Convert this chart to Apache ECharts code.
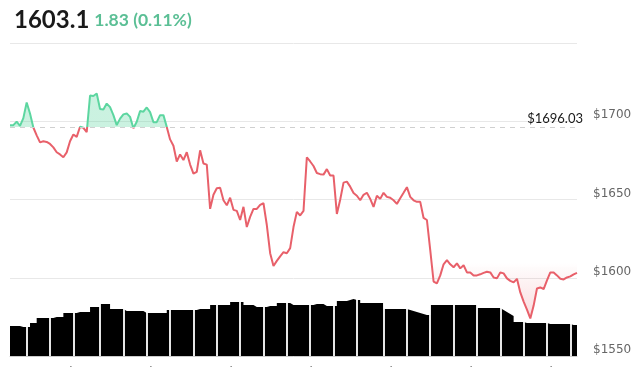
<!DOCTYPE html>
<html><head><meta charset="utf-8">
<script src="https://cdn.jsdelivr.net/npm/echarts@6/dist/echarts.min.js"></script>
<style>html,body{margin:0;padding:0;background:#fff}#c{width:640px;height:367px}</style>
</head><body><div id="c"></div>
<script>
// ---- data ----
const lastPrice = '1603.1';
const changeText = '1.83 (0.11%)';
const previousClose = 1696.03;
const startDay = 19, startHour = 10; // 19 Feb, 10:00, hourly points
const dayLabels = ['20. Feb','21. Feb','22. Feb','23. Feb','24. Feb','25. Feb','26. Feb'];
const yMin = 1550, yMax = 1750, yStep = 50;

const price = [
1697.5,1697.5,1699.7,1697.1,1702.0,1712.0,1705.0,1696.0,1691.0,1686.5,
1687.2,1686.8,1685.5,1683.3,1680.2,1678.8,1677.0,1680.1,1687.2,1691.5,
1690.0,1696.5,1695.8,1693.0,1716.4,1716.1,1717.7,1707.8,1707.5,1711.3,
1709.0,1703.9,1697.5,1701.7,1704.4,1705.0,1702.8,1695.5,1699.7,1706.5,
1706.1,1708.8,1705.8,1699.4,1699.4,1703.9,1703.9,1696.4,1688.4,1684.3,
1674.3,1678.8,1675.2,1680.2,1672.3,1666.5,1667.7,1681.4,1673.0,1672.3,
1644.0,1653.0,1657.2,1657.5,1649.5,1646.3,1651.1,1643.4,1642.7,1636.9,
1645.3,1632.4,1638.9,1644.0,1644.0,1646.6,1647.6,1633.7,1615.7,1607.5,
1610.8,1613.7,1616.3,1615.7,1618.9,1632.4,1642.1,1639.8,1642.7,1677.0,
1674.3,1671.4,1666.9,1666.2,1665.9,1669.4,1665.3,1665.3,1640.8,1649.8,
1660.8,1661.4,1658.2,1654.1,1652.4,1649.5,1653.0,1654.3,1650.4,1645.3,
1652.4,1650.4,1654.3,1651.7,1651.1,1649.5,1647.2,1650.8,1654.3,1657.9,
1651.7,1649.5,1648.5,1648.5,1638.2,1636.9,1617.6,1597.6,1596.4,1601.5,
1608.6,1611.2,1608.6,1606.7,1609.2,1606.0,1608.0,1603.4,1603.4,1601.5,
1601.5,1602.2,1603.1,1603.8,1603.4,1600.2,1599.6,1603.4,1602.8,1599.6,
1598.0,1597.0,1599.3,1590.6,1584.8,1579.6,1574.0,1582.2,1593.1,1593.8,
1592.8,1598.3,1603.4,1603.4,1601.5,1599.4,1598.9,1600.2,1600.9,1602.2,
1603.1
];

const volume = [
30,30,30,29,29,29,33,33,38,38,
38,38,38,39,39,39,43,43,43,43,
44,44,44,44,49,49,49,52,52,52,
47,47,47,47,45,45,45,45,45,45,
43,43,43,43,43,43,43,46,46,46,
46,46,46,46,46,46,47,47,47,47,
51,51,51,51,51,51,54,54,54,54,
51,51,51,49,49,49,49,50,50,50,
53,53,53,53,51,51,51,51,51,51,
51,52,52,52,50,50,50,50,55,55,
55,56,57,56,56,53,53,53,53,53,
53,53,47,47,47,47,47,47,47,46,
45,44,43,42,41,41,51,51,51,51,
51,51,51,51,51,51,51,51,51,51,
48,48,48,48,48,48,48,46,44,42,
40,34,34,34,33,33,33,33,33,33,
33,32,32,32,32,32,32,32,31,31,
31
];

const volumeBreaks = [5,12,19,27,34,41,48,55,62,69,76,83,90,97,104,112,119,126,133,140,147,154,161,168];

// hourly categories
const categories = price.map((_, i) => {
  const h = startHour + i;
  const d = startDay + Math.floor(h / 24);
  const hh = h % 24;
  return 'Feb ' + d + ' ' + String(hh).padStart(2, '0') + ':00';
});

const green = '#5cd6a0', red = '#e8606a';
const chart = echarts.init(document.getElementById('c'), null, {renderer: 'canvas'});

const gridRect = {left: 10, right: 63, top: 43, bottom: 11, outerBoundsMode: 'none', containLabel: false};

const option = {
  animation: false,
  backgroundColor: '#fff',
  title: {
    left: 9, top: 3,
    text: '{a|' + lastPrice + '} {b|' + changeText + '}',
    textStyle: {
      rich: {
        a: {fontFamily: 'Lato', fontSize: 24, color: '#1a1a1a'},
        b: {fontFamily: 'Lato', fontSize: 17.5, color: '#5bbf95'}
      }
    }
  },
  grid: [Object.assign({}, gridRect), Object.assign({}, gridRect)],
  xAxis: [
    {
      type: 'category', gridIndex: 0, data: categories, boundaryGap: false,
      axisLine: {show: true, lineStyle: {color: '#cccccc'}},
      axisTick: {show: false},
      splitLine: {show: false},
      axisLabel: {
        margin: 9, color: '#666', fontSize: 12, fontFamily: 'Lato',
        interval: (i, v) => v.endsWith(' 00:00'),
        formatter: (v) => {
          const d = parseInt(v.split(' ')[1], 10);
          return dayLabels[d - 20] || '';
        }
      },
      zlevel: 2
    },
    {
      type: 'category', gridIndex: 1, data: categories, boundaryGap: false,
      axisLine: {show: false}, axisTick: {show: false}, axisLabel: {show: false},
      splitLine: {show: true, interval: (i) => volumeBreaks.indexOf(i) >= 0,
        lineStyle: {color: '#ffffff', width: 1.8}},
      zlevel: 1
    }
  ],
  yAxis: [
    {
      type: 'value', gridIndex: 0, position: 'right', min: yMin, max: yMax, interval: yStep,
      axisLine: {show: false}, axisTick: {show: false},
      splitLine: {lineStyle: {color: '#e8e8e8', width: 1}},
      axisLabel: {
        margin: 16, color: '#666', fontSize: 12, fontFamily: 'DejaVu Sans',
        verticalAlign: 'bottom', align: 'left',
        formatter: (v) => v >= yMax ? '' : '$' + v
      },
      zlevel: 2
    },
    {
      type: 'value', gridIndex: 1, min: 0, max: 313, show: false
    }
  ],
  series: [
    {
      id: 'price', type: 'line', xAxisIndex: 0, yAxisIndex: 0, data: price,
      showSymbol: false, symbol: 'none', smooth: false, zlevel: 3,
      lineStyle: {width: 2, color: red},
      markLine: {
        silent: true, symbol: 'none', zlevel: 3,
        lineStyle: {color: '#d0d0d0', type: [5, 5], width: 1},
        label: {
          position: 'insideEndTop', formatter: '$' + previousClose.toFixed(2),
          color: '#1a1a1a', fontSize: 13, fontFamily: 'Lato', distance: [-6, 2]
        },
        data: [{yAxis: previousClose}]
      }
    },
    {
      id: 'volume', type: 'line', xAxisIndex: 1, yAxisIndex: 1, data: volume,
      step: 'end', showSymbol: false, symbol: 'none', zlevel: 0,
      lineStyle: {width: 0},
      areaStyle: {color: '#000000', opacity: 1}
    }
  ]
};
chart.setOption(option);

// colours split at the previous close, computed in pixel space from the axis
const yTop = chart.convertToPixel({yAxisIndex: 0}, yMax);
const yBot = chart.convertToPixel({yAxisIndex: 0}, yMin);
const off = (v) => (chart.convertToPixel({yAxisIndex: 0}, v) - yTop) / (yBot - yTop);
const b = off(previousClose);
const lineGrad = new echarts.graphic.LinearGradient(0, yTop, 0, yBot, [
  {offset: 0, color: green}, {offset: b, color: green},
  {offset: b, color: red}, {offset: 1, color: red}
], true);
const areaGrad = new echarts.graphic.LinearGradient(0, yTop, 0, yBot, [
  {offset: 0, color: 'rgba(92,214,160,0.32)'},
  {offset: b, color: 'rgba(92,214,160,0.32)'},
  {offset: b, color: 'rgba(232,96,106,0)'},
  {offset: off(1610), color: 'rgba(232,96,106,0)'},
  {offset: off(1575), color: 'rgba(232,96,106,0.22)'},
  {offset: 1, color: 'rgba(232,96,106,0.22)'}
], true);
chart.setOption({
  series: [{
    id: 'price',
    lineStyle: {color: lineGrad},
    areaStyle: {origin: previousClose, color: areaGrad, opacity: 1}
  }]
});
</script>
</body></html>
